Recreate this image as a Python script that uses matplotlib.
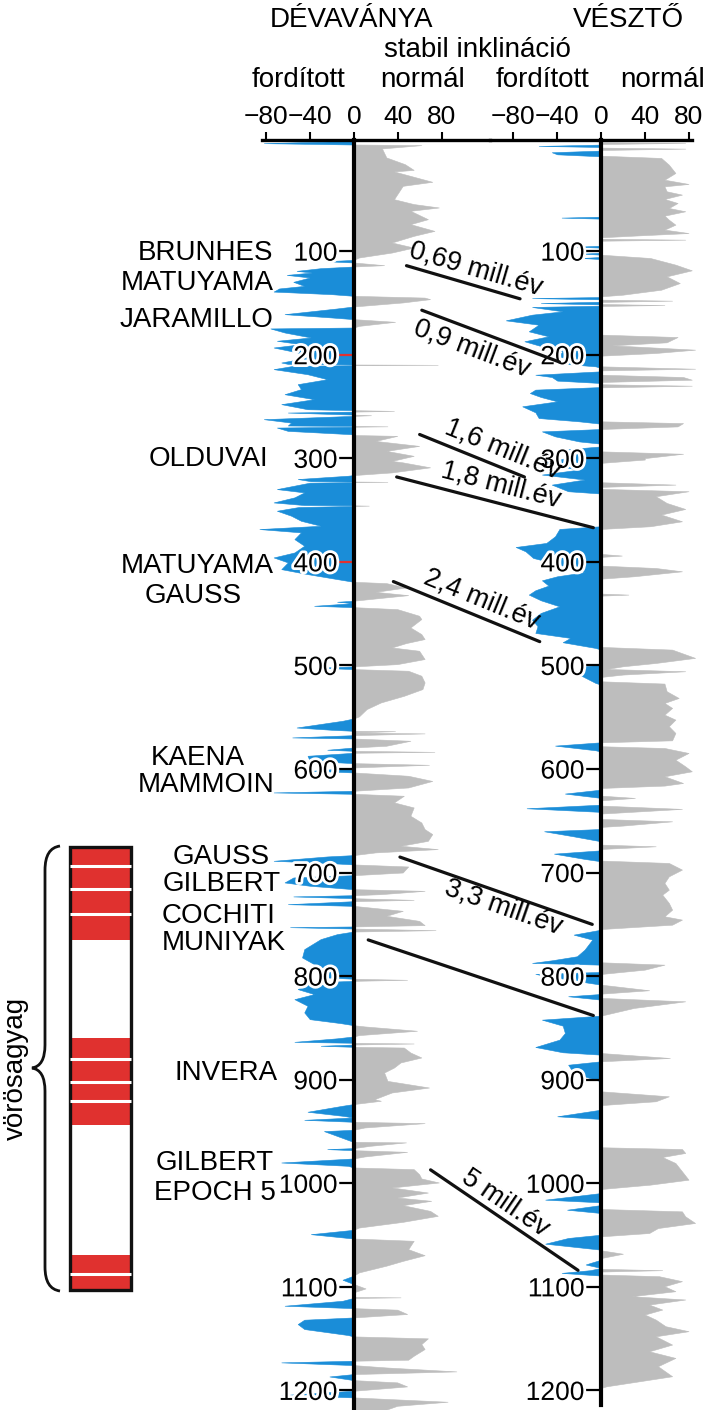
import matplotlib
matplotlib.use('Agg')
import matplotlib.pyplot as plt
import numpy as np
import matplotlib.patheffects as pe
import matplotlib.transforms as mtransforms
from matplotlib.patches import ConnectionPatch, Rectangle, PathPatch
from matplotlib.path import Path
from matplotlib import font_manager

# stable inclination logs, (depth m, inclination deg)
dev_log = [
    (-6, 0), (-3.8, -82), (-2.5, 0), (-1.9, 62), (1.3, 26), (10, 30), (16.5, 47), (22, 55), (23.5, 37),
    (33.5, 72), (37.4, 45), (50.3, 37), (55, 55), (58.3, 78), (61.5, 52), (69.6, 68), (74.4, 52),
    (80.9, 74), (85.7, 55), (92.1, 35), (97, 55), (101.8, 35), (106.6, 5), (108.9, 0), (110.2, -25),
    (111.4, 0), (114, 28), (115.3, 0), (116.9, -30), (119.5, -52), (121.1, -38), (123.4, -61),
    (125.9, -40), (130.1, -55), (134, -45), (136.5, -68), (139.5, -73), (142, -20), (143.6, 0),
    (145.3, 65), (146.8, 70), (150, 45), (153.9, 0), (155.8, -15), (161.3, -63), (164.5, -20),
    (166.1, 0), (168.7, 38), (172.6, 5), (174.2, 0), (175.1, -76), (179, -63), (183.8, -39), (187, -70),
    (190.3, -48), (193.5, -73), (198.3, -51), (203.2, -42), (208, -66), (209.3, -60), (209.9, 0),
    (210.2, 77), (210.6, 0), (211.2, -55), (214.4, -73), (219.3, -42), (224.1, -24), (228.9, -51),
    (233.7, -48), (238.6, -63), (243.4, -36), (248.2, -66), (253.1, -42), (254.0, 0), (254.7, 37),
    (255.4, 0), (256.3, -60), (258.3, 0), (258.9, 16), (259.5, 0), (262.7, -82), (266, -57),
    (268.8, -60), (269.2, 0), (269.6, 31), (270.0, 0), (270.8, -70), (274, -60), (277.2, -2), (278.0, 0),
    (278.8, 40), (283.7, 20), (288.5, 60), (293.3, 30), (298.1, 55), (303, 35), (304.4, 45), (309.2, 70),
    (314.1, 35), (316.7, 0), (317.3, -5), (320.5, -51), (322.6, -39), (322.9, 0), (323.2, 31),
    (323.5, 0), (324, -40), (330.2, -70), (333.4, -45), (338.2, -54), (343.1, -73), (345.6, -45),
    (345.9, 0), (346.2, 14), (346.5, 0), (347.5, -50), (351.1, -70), (355.9, -57), (360.8, -48),
    (365.6, -30), (368.8, -86), (372, -48), (378.5, -54), (384.9, -45), (391.4, -54), (396.2, -73),
    (401, -60), (407.5, -66), (412.3, -42), (417.1, -15), (419.7, 0), (421, 30), (425.2, 48),
    (429.4, 20), (432.6, 50), (435.8, 20), (438, 0), (439, -15), (440.3, 0), (442.9, -36), (444.2, 0),
    (446.1, 40), (452.5, 60), (455.7, 62), (463.8, 52), (470.2, 62), (475, 65), (478.9, 48),
    (483.1, 35), (486.3, 60), (494.3, 65), (499.2, 40), (501.4, 0), (502.7, -33), (504, 0), (505.6, 50),
    (510.4, 62), (516.9, 65), (523.3, 63), (529.8, 46), (536.2, 25), (542.6, 12), (549.7, 5),
    (551.7, 0), (553.9, -10), (560.4, -52), (562.6, -20), (563.6, 0), (563.9, 38), (565.2, 0),
    (566.1, 65), (567.8, 0), (570, -56), (571, 0), (573.2, 52), (578, 30), (579.7, 0), (581.9, -24),
    (582.9, 0), (583.9, 74), (584.8, 0), (587.7, -42), (592.6, -40), (594.8, 0), (596.4, 69), (599, 0),
    (602.2, -38), (603.8, 0), (607, 50), (612, 72), (618.3, 50), (621.5, 0), (623.1, -73), (624.4, 0),
    (626.3, 46), (632.7, 37), (637.6, 55), (645.6, 52), (652.1, 62), (658.5, 65), (663.3, 72),
    (669.8, 68), (674.6, 43), (677.8, 77), (681, 20), (683.6, 0), (684.9, -24), (689.1, -73),
    (691.4, -20), (692.6, 0), (694.6, 50), (700.4, 45), (703, 0), (705.2, -55), (710, -63),
    (713.2, -40), (716.5, 0), (718.1, 65), (721.3, 25), (722.3, 0), (723.5, -55), (725.2, 0),
    (726.8, 55), (728.1, 0), (731, -60), (732.6, 0), (737.4, 45), (742.2, 30), (747.1, 60), (751.2, 65),
    (752.5, 0), (753.2, -58), (754.5, 0), (756.1, 75), (757.4, 0), (759.9, -15), (764.7, -30),
    (774.4, -45), (782.4, -47), (788.9, -36), (795.3, -22), (801.7, -25), (803, 0), (804, 49), (805, 0),
    (806.6, -40), (813, -51), (817.8, -36), (822.7, -54), (829.1, -42), (835.5, -45), (842, -40),
    (845.8, -12), (847.8, 0), (849, 10), (853.2, 58), (857.4, 5), (858.7, 0), (860.5, -15),
    (863.9, -54), (864.8, 0), (865.5, 55), (866.5, 0), (867.7, -30), (868.7, 0), (869.4, 46),
    (874.2, 52), (879, 62), (883.8, 43), (888.7, 37), (893.5, 28), (901.6, 31), (908, 69), (912.8, 35),
    (919.3, 19), (920.8, 25), (924, 0), (925.6, -10), (931.4, -42), (935.3, -10), (936.9, 0),
    (939.2, -45), (941.1, 0), (942.4, 65), (946.6, 10), (948.8, 0), (950.1, -27), (959.4, -3),
    (960.4, 0), (961, 48), (964.3, 15), (966.5, 0), (967.5, -24), (968.5, 0), (970.1, 49), (974.6, 10),
    (976.5, 0), (980.4, -66), (983.6, -5), (985.2, 0), (986.8, 55), (991.7, 60), (995.8, 62),
    (999.7, 78), (1004.5, 35), (1009.4, 68), (1014.2, 40), (1017.4, 71), (1021.6, 45), (1027.1, 70),
    (1031.9, 77), (1037.7, 45), (1043.2, 5), (1045.4, 0), (1049.6, -39), (1053.8, 0), (1056, 55),
    (1064.1, 50), (1069.9, 65), (1075.4, 45), (1080, 30), (1086.5, 5), (1089.7, 0), (1093.6, -10),
    (1097.7, 0), (1102, 11), (1105.8, 0), (1110.2, 0), (1110.6, 43), (1111.2, 0), (1113.9, -10),
    (1118.7, -63), (1121, 0), (1122.5, 40), (1126.7, 49), (1130, 0), (1132.2, -45), (1136.4, -51),
    (1141.2, -45), (1147, -5), (1148.3, 0), (1150.2, 68), (1155.7, 62), (1160.5, 65), (1167, 55),
    (1170.8, 50), (1171.8, 0), (1173.4, -66), (1176, 0), (1178.3, 30), (1182.1, 94), (1184.7, 0),
    (1187, -22), (1190.5, 0), (1192.7, 40), (1196.6, 49), (1200.8, 0), (1205, -66), (1207.2, 0),
    (1211.4, 86), (1215.3, 40), (1219, 30),
]

ves_normal = [
    (-5.1, 0), (-4.5, 77), (-3.5, 0), (0, 0), (1, 77), (2.3, 0), (7.8, 0), (10, 55), (16.5, 62),
    (24.5, 68), (31, 58), (35.1, 80), (37.4, 58), (42.2, 60), (45.4, 74), (49.6, 58), (53.5, 70),
    (58.3, 62), (61.5, 77), (65.7, 58), (69.6, 62), (74.4, 68), (79.2, 58), (82.5, 80), (85, 30),
    (86.6, 0), (88, 0), (88.9, 77), (89.9, 0), (103.4, 0), (106.6, 45), (113, 68), (118.5, 83),
    (124.3, 60), (130.8, 72), (137.2, 55), (142, 20), (143.6, 0), (146.8, 0), (147.8, 65), (149, 0),
    (151, 0), (152, 58), (152.9, 0), (180.6, 0), (182.9, 70), (188, 60), (190.9, 10), (195.1, 86),
    (198.3, 50), (200.9, 0), (211.2, 0), (213.5, 86), (215.1, 0), (219.3, 0), (221.5, 75), (224.1, 83),
    (226.3, 0), (228.5, 0), (229.9, 83), (231.5, 0), (264.3, 0), (266, 75), (269.2, 70), (271.7, 0),
    (293.3, 0), (295.6, 75), (299.8, 40), (301.2, 40), (304.4, 0), (323.1, 0), (325.4, 68), (327.6, 0),
    (329.5, 0), (331.8, 80), (336.6, 50), (343.1, 60), (348.9, 77), (354.3, 55), (360.8, 74),
    (365.6, 45), (368.2, 0), (392.3, 0), (393.9, 19), (395.2, 0), (403.6, 0), (405.9, 50), (409.1, 74),
    (413.9, 30), (416.2, 0), (430.6, 0), (431.6, 25), (432.6, 0), (482.1, 0), (484.7, 65), (492.7, 86),
    (497.6, 50), (500.8, 20), (503.4, 5), (505.6, 77), (508.8, 20), (511.1, 0), (515.3, 0), (517.5, 58),
    (524.9, 60), (531.4, 71), (536.2, 58), (541, 65), (547.5, 58), (552.3, 68), (558.7, 62), (565.2, 68),
    (572.3, 65), (574.2, 0), (578, 0), (579.7, 58), (584.5, 80), (591, 68), (597.4, 77), (602.2, 83),
    (607, 58), (613.5, 75), (616, 58), (618.3, 0), (625.7, 0), (627.9, 31), (630.2, 0), (635.3, 0),
    (638.5, 74), (641.8, 20), (643, 0), (648.2, 0), (650.5, 65), (654.6, 20), (655.9, 0), (673, 0),
    (674.6, 50), (677.2, 0), (688.4, 0), (690.7, 62), (697.1, 74), (703.6, 62), (710, 58), (716.5, 62),
    (721.3, 56), (729.3, 62), (735.8, 65), (742.2, 58), (745.4, 74), (750.3, 65), (754.5, 0),
    (786.6, 0), (788.9, 58), (793.7, 40), (797.9, 0), (808.2, 0), (813.6, 44), (816.9, 0), (821, 0),
    (824.3, 77), (830.7, 30), (838.1, 0), (874.2, 0), (879, 63), (882.2, 0), (911.2, 0), (916, 62),
    (920.8, 50), (924.5, 0), (965.2, 0), (966.9, 74), (970.7, 77), (974.6, 56), (980.4, 68),
    (988.4, 74), (996.5, 80), (1001.3, 45), (1005.5, 0), (1024.8, 0), (1027.1, 74), (1031.9, 77),
    (1038.3, 86), (1043.2, 52), (1048, 44), (1051.2, 0), (1064.7, 0), (1068, 20), (1072.2, 0),
    (1082.6, 0), (1083.9, 56), (1085.2, 0), (1088.1, 0), (1089.7, 53), (1094.5, 74), (1099.4, 58),
    (1104.2, 68), (1109, 28), (1112.2, 77), (1117.1, 44), (1121.9, 56), (1126.7, 40), (1131.6, 50),
    (1138, 59), (1142.8, 80), (1147.7, 50), (1155.7, 65), (1162.2, 44), (1168.6, 68), (1176.6, 52),
    (1186.3, 65), (1196, 5), (1197.6, 0),
]

ves_reversed = [
    (-2.9, 0), (-1.6, -57), (-0.6, 0), (2.9, 0), (4.5, -45), (6.5, -40), (8.4, 0), (66.7, 0),
    (67.6, -36), (68.6, 0), (94.7, 0), (95.7, -22), (96.6, 0), (101.5, 0), (102.4, -16), (103.4, 0),
    (105.6, 0), (106.6, -18), (107.6, 0), (144.3, 0), (145.3, -63), (146.5, 0), (148.8, 0),
    (150.1, -55), (151.4, 0), (152.6, 0), (153.9, -63), (158.1, -35), (161.3, -63), (166.8, -87),
    (171, -57), (177.4, -66), (182.2, -48), (187, -70), (191.9, -54), (196.7, -35), (201.5, -40),
    (205.4, -22), (208.6, -35), (211.2, -5), (212.8, 0), (216, 0), (219.3, -60), (221.5, -45),
    (225, -40), (227.3, 0), (231.2, 0), (233.7, -60), (237, -65), (240.8, -55), (245, -40),
    (249.8, -72), (255.6, -60), (261.1, -57), (264.3, -20), (266.6, 0), (271.7, 0), (274, -54),
    (278.8, -42), (283.7, -20), (285.9, 0), (288.5, 0), (291.7, -36), (298.1, -25), (304, -50),
    (307.6, -40), (310.9, -20), (315.7, -54), (320.5, -15), (325.4, -45), (331.8, -30), (334, 0),
    (365.6, 0), (368.2, -38), (375.3, -42), (381.7, -50), (385.6, -78), (389.8, -69), (396.2, -62),
    (399.4, -50), (404.2, -33), (410, -15), (413.9, -40), (417.8, -54), (422.9, -48), (427.4, -60),
    (431.6, -66), (437.1, -55), (442.9, -38), (449.3, -55), (455.8, -63), (462.1, -58), (468.6, -60),
    (473.4, -28), (477.6, -35), (483.1, -5), (484.7, 0), (499.2, 0), (501.4, -20), (508.8, -20),
    (516.9, -5), (518.5, 0), (574.2, 0), (577.4, -42), (581.9, -5), (583.2, 0), (619.9, 0),
    (623.7, -33), (627.9, 0), (634.4, 0), (637.9, -68), (641.4, 0), (657.9, 0), (660.1, -52),
    (665, -25), (669.8, 0), (678.5, 0), (681.7, -43), (686.8, -15), (689.1, 0), (755.1, 0),
    (759.9, -25), (764.7, -8), (774.4, -15), (780.8, -22), (784.7, -45), (787.2, -63), (788.9, 0),
    (795.9, 0), (797.9, -60), (805, -20), (808.2, 0), (817.2, 0), (819.4, -30), (822.7, 0), (838.1, 0),
    (842, -54), (847.8, -35), (854.9, -33), (861.3, -38), (868.4, -60), (873.5, -35), (875.8, 0),
    (882.2, 0), (885.5, -30), (893.5, -25), (900, -5), (901.6, 0), (928.9, 0), (935.3, -40),
    (937.9, 0), (1009.4, 0), (1015.8, -51), (1018.4, 0), (1021, 0), (1025.5, -31), (1028.7, 0),
    (1049.6, 0), (1052.8, -30), (1058.3, -51), (1064.1, 0), (1073.8, 0), (1077, -10), (1078.4, -14),
    (1081.7, 0), (1083.9, -10), (1086.5, -36), (1089.1, 0),
]

depth_ticks = [100, 200, 300, 400, 500, 600, 700, 800, 900, 1000, 1100, 1200]
inc_ticks = [-80, -40, 0, 40, 80]
red_ticks = [200, 400]

# correlation lines: (inclination, depth) in Dévaványa -> Vésztő
corr_start = [(48, 114), (62, 157), (60, 277), (39, 318), (36, 419), (42, 685), (13, 765), (70, 987)]
corr_end = [(-74, 146), (-38, 207), (-70, 318), (-7, 367), (-56, 477), (-8, 750), (-7, 838), (-21, 1084)]
corr_label = ['0,69 mill.év', '0,9 mill.év', '1,6 mill.év', '1,8 mill.év', '2,4 mill.év',
              '3,3 mill.év', '', '5 mill.év']

# chron names (text, x centre px, baseline px)
chrons = [('BRUNHES', 205, 260), ('MATUYAMA', 197, 290), ('JARAMILLO', 197, 327),
          ('OLDUVAI', 208, 466), ('MATUYAMA', 197, 573), ('GAUSS', 193, 603),
          ('KAENA', 198, 765), ('MAMMOIN', 206, 792), ('GAUSS', 221, 864),
          ('GILBERT', 222, 891), ('COCHITI', 219, 923), ('MUNIYAK', 224, 950),
          ('INVERA', 226, 1080), ('GILBERT', 215, 1170), ('EPOCH 5', 215, 1200)]

# red clay column (depth intervals) and white separators
red_blocks = [(675, 765), (860, 944), (1069, 1103)]
white_lines = [694, 716, 740, 880, 902, 921, 1088]

BLUE = '#1a8dd8'
GRAY = '#bdbdbd'
RED = '#e0312f'

plt.rcParams['font.family'] = ['Liberation Sans', 'DejaVu Sans']
names = {f.name for f in font_manager.fontManager.ttflist}
if 'Liberation Sans Narrow' in names:
    tick_family, tick_size = ['Liberation Sans Narrow', 'DejaVu Sans'], 21
else:
    tick_family, tick_size = ['Liberation Sans', 'DejaVu Sans'], 19

W, H = 709, 1410
fig = plt.figure(figsize=(W / 100, H / 100), dpi=100)

ov = fig.add_axes([0, 0, 1, 1])
ov.set_xlim(0, W)
ov.set_ylim(H, 0)
ov.axis('off')

top_px = 140
ax1 = fig.add_axes([250 / W, 0, 240 / W, (H - top_px) / H])
ax2 = fig.add_axes([490 / W, 0, 219 / W, (H - top_px) / H])
ax1.set_xlim((250 - 354) / 1.094, (490 - 354) / 1.094)
ax2.set_xlim((490 - 601) / 1.094, (709 - 601) / 1.094)

dmin = (top_px - 147.6) / 1.0357
dmax = (H - 147.6) / 1.0357

for ax in (ax1, ax2):
    ax.set_facecolor('none')
    ax.set_ylim(dmax, dmin)
    ax.spines['right'].set_visible(False)
    ax.spines['bottom'].set_visible(False)
    ax.spines['left'].set_position(('data', 0))
    ax.spines['left'].set_linewidth(3)
    ax.spines['top'].set_linewidth(2.4)
    ax.xaxis.tick_top()
    ax.set_xticks(inc_ticks)
    ax.set_yticks(depth_ticks)
    ax.tick_params(axis='x', direction='out', length=6, width=1.5, pad=2,
                   labelsize=tick_size, labelfontfamily=tick_family)
    ax.tick_params(axis='y', direction='out', length=11, width=1.6, pad=1,
                   labelsize=tick_size, labelfontfamily=tick_family)
    for lab in ax.get_yticklabels():
        lab.set_path_effects([pe.withStroke(linewidth=4, foreground='white')])

ax1.spines['top'].set_bounds(-84, ax1.get_xlim()[1])
ax2.spines['top'].set_bounds(ax2.get_xlim()[0], 83)
ax2.spines['left'].set_bounds(dmin, (1405 - 147.6) / 1.0357)

for tick, val in zip(ax1.yaxis.get_major_ticks(), depth_ticks):
    if val in red_ticks:
        tick.tick1line.set_color(RED)
        tick.tick1line.set_markeredgecolor(RED)

d, v = np.array(dev_log).T
ax1.fill_betweenx(d, 0, v, where=v >= 0, interpolate=True, color=GRAY, lw=0.4)
ax1.fill_betweenx(d, 0, v, where=v <= 0, interpolate=True, color=BLUE, lw=0.4)

d, v = np.array(ves_normal).T
ax2.fill_betweenx(d, 0, v, color=GRAY, lw=0.4)
d, v = np.array(ves_reversed).T
ax2.fill_betweenx(d, 0, v, color=BLUE, lw=0.4)

# correlation lines and their ages
offsets = [(0.57, 16), (0.41, -18), (0.73, 17), (0.51, 18), (0.56, 17), (0.56, -13), (0.5, 0), (0.45, 14)]
for a, b, lab, (t, off) in zip(corr_start, corr_end, corr_label, offsets):
    con = ConnectionPatch(xyA=a, coordsA=ax1.transData, xyB=b, coordsB=ax2.transData,
                          color='#111111', lw=2.3, zorder=5)
    fig.add_artist(con)
    if not lab:
        continue
    p0 = ax1.transData.transform(a)
    p1 = ax2.transData.transform(b)
    dv = p1 - p0
    u = dv / np.hypot(*dv)
    n = np.array([-u[1], u[0]])
    if n[1] < 0:
        n = -n
    pos = p0 + t * dv + off * n
    ang = np.degrees(np.arctan2(dv[1], dv[0]))
    fx, fy = fig.transFigure.inverted().transform(pos)
    fig.text(fx, fy, lab, rotation=ang, rotation_mode='anchor', ha='center', va='center',
             fontsize=19.5, zorder=6)

# headers
ov.text(352, 27, 'DÉVAVÁNYA', ha='center', va='baseline', fontsize=20)
ov.text(628, 27, 'VÉSZTŐ', ha='center', va='baseline', fontsize=20)
ov.text(477, 57, 'stabil inklináció', ha='center', va='baseline', fontsize=20)
for x, s in [(298, 'fordított'), (423, 'normál'), (543, 'fordított'), (663, 'normál')]:
    ov.text(x, 87, s, ha='center', va='baseline', fontsize=20)

for name, x, y in chrons:
    ov.text(x, y, name, ha='center', va='baseline', fontsize=20)

# red clay column
blend = mtransforms.blended_transform_factory(ov.transData, ax1.transData)
for a, b in red_blocks:
    ov.add_patch(Rectangle((70, a), 61, b - a, transform=blend, fc=RED, lw=0))
for y in white_lines:
    ov.plot([70, 131], [y, y], transform=blend, color='white', lw=2.2, solid_capstyle='butt')
ov.add_patch(Rectangle((70, red_blocks[0][0]), 61, red_blocks[-1][1] - red_blocks[0][0],
                       transform=blend, fc='none', ec='#111111', lw=2.4))

brace = Path([(60, 846), (45, 848), (45, 870), (45, 1045), (45, 1066), (32, 1068),
              (45, 1070), (45, 1091), (45, 1267), (45, 1289), (60, 1291)],
             [Path.MOVETO, Path.CURVE3, Path.CURVE3, Path.LINETO, Path.CURVE3, Path.CURVE3,
              Path.CURVE3, Path.CURVE3, Path.LINETO, Path.CURVE3, Path.CURVE3])
ov.add_patch(PathPatch(brace, fc='none', ec='#111111', lw=2))
ov.text(16, 1068, 'vörösagyag', rotation=90, ha='center', va='center', fontsize=20)

fig.savefig('out.png', dpi=100)
